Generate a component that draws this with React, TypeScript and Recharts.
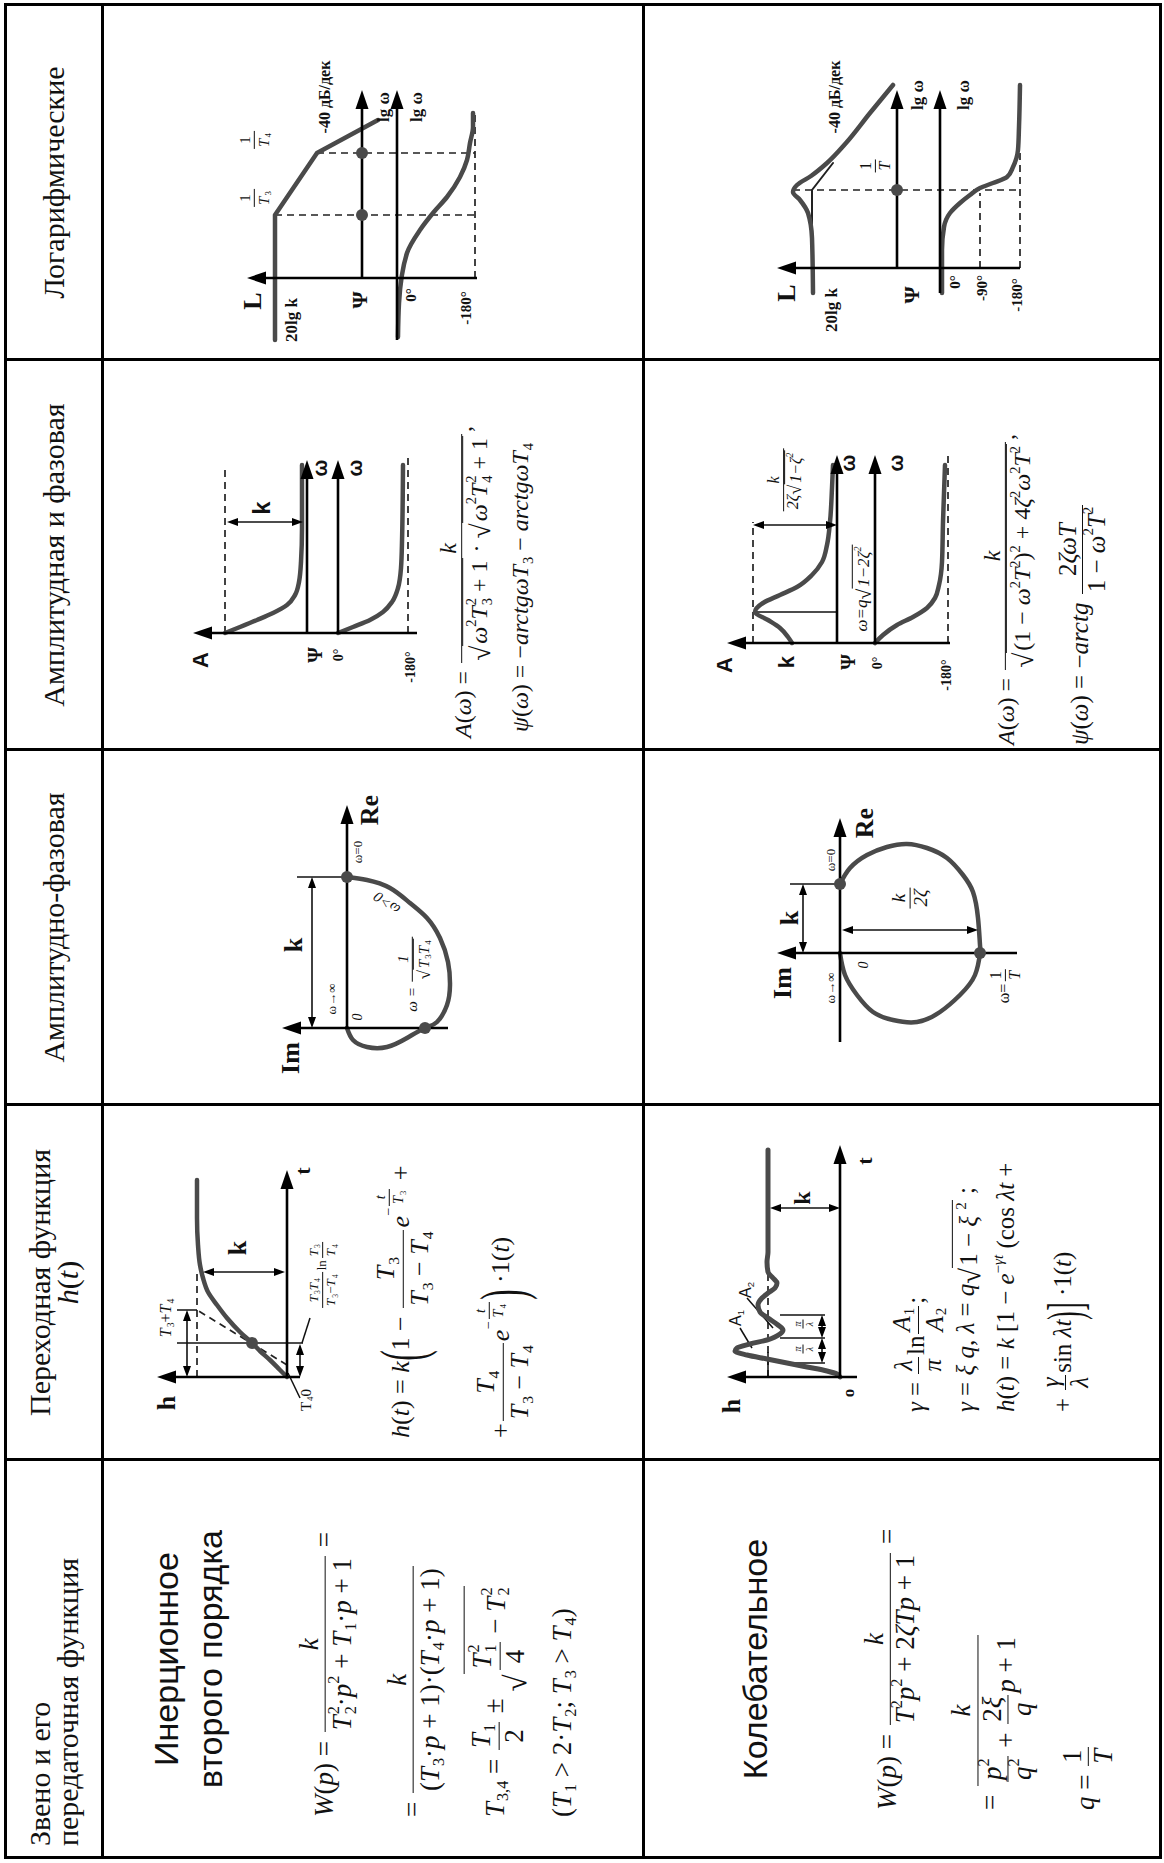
import React from "react";
import { ComposedChart, Line, XAxis, YAxis, ReferenceLine, ReferenceDot } from "recharts";

type P = [number, number];
type Seg = [number, number, number, number];

// ---- Логарифмические: инерционное второго порядка ----
const log1Axes: Seg[] = [[0, -11.5, 0, 11.5], [0, 0, 18.8, 0], [-6.2, -3.5, 18.8, -3.5]];
const log1Amp: P[] = [[-6.2, 8.7], [6.3, 8.7], [12.5, 4.5], [15.8, -1.6]];
const log1Phase: P[] = [[-5.9, -3.6], [-2.5, -3.7], [2.5, -4.5], [4.8, -5.8], [6.5, -7.1], [8.1, -8.5], [10.1, -9.8], [11.8, -10.5], [13.5, -10.8], [15.1, -11.1], [16.5, -11.1]];
const log1Guides: Seg[] = [[6.3, 8.7, 6.3, -11.3], [12.5, 4.5, 12.5, -11.3], [0, -11.3, 16.5, -11.3]];
const log1Dots: P[] = [[6.3, 0], [12.5, 0]];

// ---- Логарифмические: колебательное ----
const log2Axes: Seg[] = [[0, -12.3, 0, 12.0], [0, 0, 17.8, 0], [-2.5, -4.3, 17.8, -4.3]];
const log2Amp: P[] = [[-2.5, 8.4], [3.0, 8.5], [5.5, 8.9], [6.8, 9.7], [7.6, 10.4], [8.3, 10.0], [9.2, 8.6], [10.5, 7.0], [12.5, 5.1], [15.5, 2.7], [18.3, 0.4]];
const log2Asym: P[] = [[0, 8.5], [7.8, 8.5], [10.5, 6.4]];
const log2Phase: P[] = [[-2.5, -4.5], [1.8, -4.5], [4.1, -4.7], [5.5, -5.3], [6.5, -6.3], [7.3, -7.3], [8.0, -8.3], [8.5, -9.6], [9.1, -11.0], [10.1, -11.6], [11.8, -12.1], [14.1, -12.2], [18.3, -12.3]];
const log2Guides: Seg[] = [[7.8, 10.4, 7.8, -12.3], [0, -8.3, 7.5, -8.3], [0, -12.3, 11.8, -12.3]];
const log2Dots: P[] = [[7.8, 0]];

// ---- Амплитудная и фазовая ----
const amp1Axes: Seg[] = [[0, -11.0, 0, 11.4], [0, 0, 17.3, 0], [0, -3.1, 17.3, -3.1]];
const amp1A: P[] = [[0, 8.2], [0.6, 6.7], [1.3, 5.0], [2.0, 3.4], [2.8, 2.0], [3.8, 1.2], [5.1, 0.8], [7.1, 0.6], [10.5, 0.5], [16.8, 0.5]];
const amp1Phase: P[] = [[0, -3.1], [0.6, -4.6], [1.3, -6.3], [2.1, -7.6], [3.1, -8.5], [4.5, -9.1], [6.5, -9.4], [9.1, -9.5], [16.8, -9.6]];
const amp1Guides: Seg[] = [[0, 8.2, 16.6, 8.2], [0, -10.1, 17.5, -10.1]];
const amp1Dims: Seg[] = [[11.1, 8.0, 11.1, 0.4]];

const amp2Axes: Seg[] = [[0, -11.3, 0, 11.0], [0, 0, 18.8, 0], [0, -3.8, 18.8, -3.8]];
const amp2A: P[] = [[0, 4.5], [0.6, 4.9], [1.5, 5.7], [2.3, 6.9], [3.1, 8.2], [4.0, 7.4], [4.8, 5.7], [5.6, 4.0], [6.8, 2.5], [8.1, 1.5], [9.8, 1.0], [12.1, 0.7], [15.5, 0.5], [17.8, 0.4]];
const amp2Phase: P[] = [[0, -3.8], [0.8, -4.6], [1.8, -6.0], [2.6, -7.6], [3.5, -9.0], [4.5, -9.8], [5.8, -10.2], [8.1, -10.5], [12.1, -10.6], [17.8, -10.8]];
const amp2Guides: Seg[] = [[0, 8.4, 12.1, 8.4], [0, -11.1, 18.8, -11.1]];
const amp2Thin: Seg[] = [[3.1, 8.4, 3.1, 0]];
const amp2Dims: Seg[] = [[11.8, 8.4, 11.8, 0]];

// ---- Амплитудно-фазовая ----
const af1Axes: Seg[] = [[0, 0, 22.3, 0], [0, -10.1, 0, 6.5]];
const af1Curve: P[] = [[15.1, 0], [14.8, -2.0], [14.0, -4.3], [12.5, -6.3], [11.0, -8.0], [9.0, -9.3], [6.6, -10.1], [4.3, -10.3], [2.3, -10.0], [0.6, -9.0], [0, -7.8], [-1.0, -6.0], [-1.9, -4.0], [-1.9, -2.0], [-1.2, -0.6], [0, 0]];
const af1Thin: Seg[] = [[15.1, 5.0, 15.1, 0]];
const af1Dims: Seg[] = [[0, 3.5, 15.1, 3.5]];
const af1Dots: P[] = [[15.1, 0], [0, -7.8]];

const af2Axes: Seg[] = [[-8.9, 0, 13.5, 0], [0, -17.7, 0, 6.3]];
const af2Curve: P[] = [[6.9, 0], [8.5, -1.0], [9.8, -2.7], [10.6, -4.7], [10.9, -6.7], [10.5, -8.7], [9.5, -10.7], [7.8, -12.3], [6.1, -13.3], [3.5, -13.8], [0.8, -14.0], [0, -14.0], [-2.2, -13.5], [-4.2, -12.0], [-5.9, -10.0], [-6.9, -7.7], [-6.7, -5.3], [-5.9, -3.3], [-4.2, -1.7], [-2.2, -0.5], [0, 0]];
const af2Thin: Seg[] = [[6.9, 5.0, 6.9, 0]];
const af2Dims: Seg[] = [[0, 3.7, 6.9, 3.7], [2.3, -0.2, 2.3, -13.8]];
const af2Dots: P[] = [[6.9, 0], [0, -14.0]];

// ---- Переходная функция ----
const tr1Axes: Seg[] = [[0, -1.3, 0, 13.0], [0, 0, 20.7, 0]];
const tr1Curve: P[] = [[0, 0], [0.7, 0.7], [1.7, 1.7], [2.6, 2.7], [3.4, 3.5], [4.5, 4.7], [5.9, 6.0], [7.2, 7.0], [8.5, 7.9], [9.9, 8.4], [11.2, 8.7], [13.2, 8.9], [15.9, 9.0], [19.7, 9.0]];
const tr1Guides: Seg[] = [[0, 9.0, 10.5, 9.0], [1.2, 0, 6.7, 9.0]];
const tr1Thin: Seg[] = [[3.4, 11.0, 3.4, -1.6], [6.7, 11.0, 6.7, 9.0], [-2.1, -1.3, 0.4, -0.1], [5.9, -2.3, 3.4, -1.5]];
const tr1Dims: Seg[] = [[0, 10.0, 6.7, 10.0], [0, -1.3, 3.3, -1.3], [10.5, 8.4, 10.5, 0.2]];
const tr1Dots: P[] = [[3.4, 3.5]];

const tr2Axes: Seg[] = [[0, -1.7, 0, 11.3], [0, 0, 23.2, 0]];
const tr2Curve: P[] = [[0, 0], [0.3, 0.3], [0.6, 1.3], [1.0, 3.3], [1.4, 5.3], [1.8, 7.3], [2.2, 9.3], [2.6, 10.5], [2.9, 10.3], [3.3, 9.0], [3.7, 7.3], [4.3, 6.0], [4.7, 5.7], [5.2, 6.2], [5.9, 7.2], [6.5, 8.0], [7.2, 8.2], [7.9, 7.8], [8.4, 7.2], [8.9, 6.5], [9.4, 6.3], [9.9, 6.7], [10.5, 7.2], [11.5, 7.3], [12.5, 7.2], [14.5, 7.2], [22.7, 7.2]];
const tr2Guides: Seg[] = [[0, 7.2, 10.5, 7.2]];
const tr2Thin: Seg[] = [[0, 7.2, 2.5, 7.2], [1.4, 6.0, 1.4, 1.5], [3.9, 6.0, 3.9, 1.5], [6.2, 6.0, 6.2, 1.5], [4.9, 10.0, 2.9, 8.8], [7.9, 9.3, 4.9, 6.7]];
const tr2Dims: Seg[] = [[1.4, 1.8, 3.9, 1.8], [3.9, 1.8, 6.2, 1.8], [16.9, 7.0, 16.9, 0]];

const S = 10; // px per unit
const CURVE = "#4a4a4a";
const SERIF = '"Liberation Serif", "Times New Roman", serif';
const SANS = '"Liberation Sans", Arial, sans-serif';

const angOf = (s: Seg) => (Math.atan2(-(s[3] - s[1]), s[2] - s[0]) * 180) / Math.PI;
const cut = (s: Seg, a: number, b: number): Seg => {
  const dx = s[2] - s[0];
  const dy = s[3] - s[1];
  const len = Math.hypot(dx, dy);
  return [s[0] + (dx / len) * a, s[1] + (dy / len) * a, s[2] - (dx / len) * b, s[3] - (dy / len) * b];
};
const seg = (s: Seg) => [{ x: s[0], y: s[1] }, { x: s[2], y: s[3] }];

function Head({ cx, cy, a, L, W }: any) {
  return <polygon points={`0,0 ${-L},${-W / 2} ${-L},${W / 2}`} transform={`translate(${cx},${cy}) rotate(${a})`} fill="#000" />;
}

function Plot({ box, origin, curves = [], axes = [], dashed = [], thin = [], dims = [], dots = [] }: any) {
  const [bx, by, bw, bh] = box;
  const [ox, oy] = origin;
  const xd = [(bx - ox) / S, (bx + bw - ox) / S];
  const yd = [(oy - by - bh) / S, (oy - by) / S];
  return (
    <div style={{ position: "absolute", left: bx, top: by }}>
      <ComposedChart width={bw} height={bh} margin={{ top: 0, right: 0, bottom: 0, left: 0 }}>
        <XAxis type="number" dataKey="x" domain={xd} hide allowDataOverflow />
        <YAxis type="number" dataKey="y" domain={yd} hide allowDataOverflow />
        {dashed.map((s: Seg, i: number) => (
          <ReferenceLine key={`g${i}`} segment={seg(s)} stroke="#222" strokeWidth={1.7} strokeDasharray="7 5" ifOverflow="visible" />
        ))}
        {thin.map((s: Seg, i: number) => (
          <ReferenceLine key={`t${i}`} segment={seg(s)} stroke="#111" strokeWidth={1.5} ifOverflow="visible" />
        ))}
        {curves.map((c: any, i: number) => (
          <Line
            key={`c${i}`}
            data={c.pts.map(([x, y]: P) => ({ x, y }))}
            dataKey="y"
            type={c.type ?? "monotone"}
            stroke={c.color ?? CURVE}
            strokeWidth={c.w ?? 4.5}
            dot={false}
            activeDot={false}
            strokeLinecap="round"
            strokeLinejoin="round"
            isAnimationActive={false}
          />
        ))}
        {axes.map((s: Seg, i: number) => (
          <ReferenceLine key={`a${i}`} segment={seg(cut(s, 0, 1.2))} stroke="#000" strokeWidth={2.6} ifOverflow="visible" />
        ))}
        {axes.map((s: Seg, i: number) => (
          <ReferenceDot key={`ah${i}`} x={s[2]} y={s[3]} r={1} ifOverflow="visible" shape={(p: any) => <Head cx={p.cx} cy={p.cy} a={angOf(s)} L={19} W={13} />} />
        ))}
        {dims.map((s: Seg, i: number) => (
          <ReferenceLine key={`m${i}`} segment={seg(cut(s, 0.6, 0.6))} stroke="#111" strokeWidth={1.6} ifOverflow="visible" />
        ))}
        {dims.map((s: Seg, i: number) => (
          <ReferenceDot key={`me${i}`} x={s[2]} y={s[3]} r={1} ifOverflow="visible" shape={(p: any) => <Head cx={p.cx} cy={p.cy} a={angOf(s)} L={11} W={8} />} />
        ))}
        {dims.map((s: Seg, i: number) => (
          <ReferenceDot key={`ms${i}`} x={s[0]} y={s[1]} r={1} ifOverflow="visible" shape={(p: any) => <Head cx={p.cx} cy={p.cy} a={angOf(s) + 180} L={11} W={8} />} />
        ))}
        {dots.map(([x, y]: P, i: number) => (
          <ReferenceDot key={`p${i}`} x={x} y={y} r={6} fill={CURVE} stroke="none" ifOverflow="visible" />
        ))}
      </ComposedChart>
    </div>
  );
}

function Txt({ x, y, s = 16, b = false, it = false, sans = false, rot = 0, children }: any) {
  return (
    <div
      style={{
        position: "absolute",
        left: x,
        top: y,
        transform: `translate(-50%, -50%) rotate(${rot}deg)`,
        fontFamily: sans ? SANS : SERIF,
        fontSize: s,
        fontWeight: b ? 700 : 400,
        fontStyle: it ? "italic" : "normal",
        whiteSpace: "nowrap",
        lineHeight: 1.1,
      }}
    >
      {children}
    </div>
  );
}

function Mth({ x, y, s, children }: any) {
  return (
    <div style={{ position: "absolute", left: x, top: y, transform: "translateY(-50%)", fontFamily: SERIF, fontSize: s, whiteSpace: "pre", lineHeight: 1.15 }}>
      {children}
    </div>
  );
}

function Fr({ n, d, bar = 1.3 }: any) {
  return (
    <span style={{ display: "inline-flex", flexDirection: "column", alignItems: "stretch", verticalAlign: "middle", textAlign: "center", margin: "0 2px", lineHeight: 1.1 }}>
      <span style={{ padding: "0 2px" }}>{n}</span>
      <span style={{ borderTop: `${bar}px solid #111`, padding: "0 2px" }}>{d}</span>
    </span>
  );
}

function V({ b, sub, sup, up = false }: any) {
  return (
    <span style={{ display: "inline-flex", alignItems: "center" }}>
      <span style={{ fontStyle: up ? "normal" : "italic" }}>{b}</span>
      <span style={{ display: "inline-flex", flexDirection: "column", fontSize: "0.6em", lineHeight: 1.05, fontStyle: "normal", marginLeft: 1 }}>
        <span style={{ visibility: sup ? "visible" : "hidden" }}>{sup || "0"}</span>
        <span style={{ visibility: sub ? "visible" : "hidden" }}>{sub || "0"}</span>
      </span>
    </span>
  );
}

const Sp = ({ children }: any) => <span style={{ fontSize: "0.6em", position: "relative", top: "-0.75em" }}>{children}</span>;
const Sb = ({ children }: any) => <span style={{ fontSize: "0.6em", position: "relative", top: "0.35em" }}>{children}</span>;
const Ex = ({ children }: any) => <span style={{ fontSize: "0.55em", display: "inline-block", position: "relative", top: "-1.1em" }}>{children}</span>;

function Rt({ children }: any) {
  return (
    <span style={{ display: "inline-flex", alignItems: "stretch", verticalAlign: "middle" }}>
      <span style={{ display: "flex", alignItems: "flex-end", fontSize: "1.15em", lineHeight: 1, fontStyle: "normal" }}>√</span>
      <span style={{ borderTop: "1.3px solid #111", padding: "1px 2px 0", lineHeight: 1.2 }}>{children}</span>
    </span>
  );
}

const Bg = ({ c, k = 2.4 }: any) => (
  <span style={{ display: "inline-block", fontSize: `${k}em`, lineHeight: 0.9, verticalAlign: "middle", transform: "scaleX(0.5)", margin: "0 -0.08em" }}>{c}</span>
);

const T = (n: string, p?: string) => <V b="T" sub={n} sup={p} />;

const COLS = [5, 403, 758, 1113, 1503, 1858];
const ROWS = [5, 102, 643, 1160];

function Grid() {
  return (
    <>
      {COLS.map((x) => (
        <div key={`v${x}`} style={{ position: "absolute", left: x - 1.5, top: ROWS[0] - 1.5, width: 3, height: ROWS[3] - ROWS[0] + 3, background: "#000" }} />
      ))}
      {ROWS.map((y) => (
        <div key={`h${y}`} style={{ position: "absolute", left: COLS[0] - 1.5, top: y - 1.5, width: COLS[5] - COLS[0] + 3, height: 3, background: "#000" }} />
      ))}
    </>
  );
}

function Headers() {
  const hs: any = { position: "absolute", top: 5, height: 97, display: "flex", flexDirection: "column", justifyContent: "center", fontFamily: SERIF, fontSize: 30, lineHeight: "28px" };
  return (
    <>
      <div style={{ ...hs, left: 5, width: 398, paddingLeft: 12, boxSizing: "border-box" }}>
        <div>Звено и его</div>
        <div>передаточная функция</div>
      </div>
      <div style={{ ...hs, left: 403, width: 355, textAlign: "center" }}>
        <div>Переходная функция</div>
        <div><i>h</i>(<i>t</i>)</div>
      </div>
      <div style={{ ...hs, left: 758, width: 355, textAlign: "center" }}>Амплитудно-фазовая</div>
      <div style={{ ...hs, left: 1113, width: 390, textAlign: "center" }}>Амплитудная и фазовая</div>
      <div style={{ ...hs, left: 1503, width: 355, textAlign: "center" }}>Логарифмические</div>
    </>
  );
}

export default function App() {
  return (
    <div style={{ position: "absolute", left: 0, top: 0, width: 1164, height: 1863, overflow: "hidden", background: "#fff" }}>
      <div style={{ position: "absolute", left: 0, top: 0, width: 1863, height: 1164, transformOrigin: "0 0", transform: "translateY(1863px) rotate(-90deg)", color: "#111" }}>
        {/* Логарифмические */}
        <Plot box={[1503, 102, 355, 541]} origin={[1585, 362]} axes={log1Axes} dashed={log1Guides} dots={log1Dots}
          curves={[{ pts: log1Amp, type: "linear" }, { pts: log1Phase }]} />
        <Plot box={[1503, 643, 355, 517]} origin={[1595, 897]} axes={log2Axes} dashed={log2Guides} dots={log2Dots}
          curves={[{ pts: log2Asym, type: "linear", w: 2, color: "#222" }, { pts: log2Amp }, { pts: log2Phase }]} />
        {/* Амплитудная и фазовая */}
        <Plot box={[1113, 102, 390, 541]} origin={[1230, 307]} axes={amp1Axes} dashed={amp1Guides} dims={amp1Dims}
          curves={[{ pts: amp1A }, { pts: amp1Phase }]} />
        <Plot box={[1113, 643, 390, 517]} origin={[1220, 837]} axes={amp2Axes} dashed={amp2Guides} thin={amp2Thin} dims={amp2Dims}
          curves={[{ pts: amp2A }, { pts: amp2Phase }]} />
        {/* Амплитудно-фазовая */}
        <Plot box={[758, 102, 355, 541]} origin={[835, 347]} axes={af1Axes} thin={af1Thin} dims={af1Dims} dots={af1Dots}
          curves={[{ pts: af1Curve, type: "natural" }]} />
        <Plot box={[758, 643, 355, 517]} origin={[910, 840]} axes={af2Axes} thin={af2Thin} dims={af2Dims} dots={af2Dots}
          curves={[{ pts: af2Curve, type: "natural" }]} />
        {/* Переходная функция */}
        <Plot box={[403, 102, 355, 541]} origin={[486, 287]} axes={tr1Axes} dashed={tr1Guides} thin={tr1Thin} dims={tr1Dims} dots={tr1Dots}
          curves={[{ pts: tr1Curve }]} />
        <Plot box={[403, 643, 355, 517]} origin={[486, 840]} axes={tr2Axes} dashed={tr2Guides} thin={tr2Thin} dims={tr2Dims}
          curves={[{ pts: tr2Curve, w: 5 }]} />

        <Grid />
        <Headers />

        {/* labels: логарифмические */}
        <Txt x={1562} y={253} s={26} b>L</Txt>
        <Txt x={1543} y={292} s={17} b>20lg k</Txt>
        <Txt x={1563} y={360} s={22} b>Ψ</Txt>
        <Txt x={1568} y={411} s={15} b>0°</Txt>
        <Txt x={1555} y={466} s={15} b>-180°</Txt>
        <Txt x={1665} y={255} s={15}><Fr n="1" d={T("3")} bar={1} /></Txt>
        <Txt x={1723} y={255} s={15}><Fr n="1" d={T("4")} bar={1} /></Txt>
        <Txt x={1766} y={325} s={16} b>-40 дБ/дек</Txt>
        <Txt x={1756} y={384} s={17} b>lg ω</Txt>
        <Txt x={1756} y={417} s={17} b>lg ω</Txt>

        <Txt x={1570} y={787} s={26} b>L</Txt>
        <Txt x={1553} y={832} s={17} b>20lg k</Txt>
        <Txt x={1568} y={912} s={22} b>Ψ</Txt>
        <Txt x={1581} y={955} s={15} b>0°</Txt>
        <Txt x={1575} y={982} s={15} b>-90°</Txt>
        <Txt x={1568} y={1017} s={15} b>-180°</Txt>
        <Txt x={1697} y={875} s={16}><Fr n="1" d={<i>T</i>} bar={1} /></Txt>
        <Txt x={1766} y={835} s={16} b>-40 дБ/дек</Txt>
        <Txt x={1768} y={918} s={17} b>lg ω</Txt>
        <Txt x={1768} y={964} s={17} b>lg ω</Txt>

        {/* labels: амплитудная и фазовая */}
        <Txt x={1203} y={201} s={22} b sans>A</Txt>
        <Txt x={1208} y={315} s={20} b>Ψ</Txt>
        <Txt x={1208} y={339} s={14} b>0°</Txt>
        <Txt x={1196} y={411} s={14} b>-180°</Txt>
        <Txt x={1355} y={262} s={24} b sans>k</Txt>
        <Txt x={1395} y={320} s={20} b sans>ω</Txt>
        <Txt x={1395} y={355} s={20} b sans>ω</Txt>
        <Mth x={1125} y={465} s={24}>
          <i>A</i>(<i>ω</i>) ={" "}
          <Fr n={<i>k</i>} d={<><Rt><i>ω</i><Sp>2</Sp>{T("3", "2")} + 1</Rt> · <Rt><i>ω</i><Sp>2</Sp>{T("4", "2")} + 1</Rt></>} />,
        </Mth>
        <Mth x={1131} y={521} s={24}>
          <i>ψ</i>(<i>ω</i>) = −<i>arctgω</i>{T("3")} − <i>arctgω</i>{T("4")}
        </Mth>

        <Txt x={1198} y={725} s={22} b sans>A</Txt>
        <Txt x={1201} y={787} s={22} b sans>k</Txt>
        <Txt x={1201} y={848} s={20} b>Ψ</Txt>
        <Txt x={1200} y={878} s={14} b>0°</Txt>
        <Txt x={1188} y={947} s={14} b>-180°</Txt>
        <Txt x={1400} y={848} s={20} b sans>ω</Txt>
        <Txt x={1400} y={896} s={20} b sans>ω</Txt>
        <Txt x={1383} y={785} s={16} it>
          <Fr n="k" d={<>2ζ<Rt>1−ζ<Sp>2</Sp></Rt></>} bar={1.2} />
        </Txt>
        <Txt x={1275} y={863} s={17} it>ω=q<Rt>1−2ζ<Sp>2</Sp></Rt></Txt>
        <Mth x={1118} y={1008} s={24}>
          <i>A</i>(<i>ω</i>) ={" "}
          <Fr n={<i>k</i>} d={<Rt>(1 − <i>ω</i><Sp>2</Sp><i>T</i><Sp>2</Sp>)<Sp>2</Sp> + 4<i>ζ</i><Sp>2</Sp><i>ω</i><Sp>2</Sp><i>T</i><Sp>2</Sp></Rt>} />,
        </Mth>
        <Mth x={1118} y={1082} s={25}>
          <i>ψ</i>(<i>ω</i>) = −<i>arctg</i>{" "}
          <Fr n={<>2<i>ζωT</i></>} d={<>1 − <i>ω</i><Sp>2</Sp><i>T</i><Sp>2</Sp></>} />
        </Mth>

        {/* labels: амплитудно-фазовая */}
        <Txt x={1053} y={370} s={26} b>Re</Txt>
        <Txt x={805} y={291} s={26} b>Im</Txt>
        <Txt x={918} y={294} s={26} b>k</Txt>
        <Txt x={1011} y={358} s={13}>ω=0</Txt>
        <Txt x={864} y={332} s={13}>ω→∞</Txt>
        <Txt x={846} y={358} s={14} it>0</Txt>
        <Txt x={960} y={387} s={15} it rot={-55}>ω&gt;0</Txt>
        <Txt x={890} y={414} s={15} it>
          ω ={" "}<Fr n="1" d={<Rt>{T("3")}{T("4")}</Rt>} bar={1} />
        </Txt>

        <Txt x={1040} y={865} s={26} b>Re</Txt>
        <Txt x={880} y={783} s={26} b>Im</Txt>
        <Txt x={945} y={790} s={26} b>k</Txt>
        <Txt x={965} y={910} s={19} it><Fr n="k" d="2ζ" bar={1.2} /></Txt>
        <Txt x={1003} y={831} s={13}>ω=0</Txt>
        <Txt x={875} y={831} s={13}>ω→∞</Txt>
        <Txt x={898} y={864} s={14} it>0</Txt>
        <Txt x={878} y={1005} s={16}>ω=<Fr n="1" d={<i>T</i>} bar={1} /></Txt>

        {/* labels: переходная функция */}
        <Txt x={460} y={167} s={26} b>h</Txt>
        <Txt x={692} y={303} s={22} b>t</Txt>
        <Txt x={545} y={166} s={16}>{T("3")}+{<V b="T" sub="4" />}</Txt>
        <Txt x={463} y={306} s={15}><V b="T" sub="4" up />0</Txt>
        <Txt x={588} y={323} s={13}>
          <Fr n={<>{T("3")}{T("4")}</>} d={<>{T("3")}−{T("4")}</>} bar={1} />ln<Fr n={T("3")} d={T("4")} bar={1} />
        </Txt>
        <Txt x={615} y={238} s={26} b>k</Txt>
        <Mth x={425} y={403} s={26}>
          <i>h</i>(<i>t</i>) = <i>k</i>
          <Bg c="(" />
          1 −{" "}
          <Fr n={T("3")} d={<>{T("3")} − {T("4")}</>} />
          <i>e</i>
          <Ex>−<Fr n={<i>t</i>} d={T("3")} bar={1} /></Ex> +
        </Mth>
        <Mth x={425} y={503} s={26}>
          +<Fr n={T("4")} d={<>{T("3")} − {T("4")}</>} />
          <i>e</i>
          <Ex>−<Fr n={<i>t</i>} d={T("4")} bar={1} /></Ex>
          <Bg c=")" />
          {" "}·1(<i>t</i>)
        </Mth>

        <Txt x={457} y={732} s={26} b>h</Txt>
        <Txt x={470} y={849} s={17} b>o</Txt>
        <Txt x={702} y={865} s={22} b>t</Txt>
        <Txt x={665} y={802} s={24} b>k</Txt>
        <Txt x={545} y={736} s={16} sans>A<Sb>1</Sb></Txt>
        <Txt x={573} y={746} s={16} sans>A<Sb>2</Sb></Txt>
        <Txt x={514} y={803} s={10} it><Fr n="π" d="λ" bar={0.8} /></Txt>
        <Txt x={539} y={803} s={10} it><Fr n="π" d="λ" bar={0.8} /></Txt>
        <Mth x={451} y={918} s={25}>
          <i>γ</i> = <Fr n={<i>λ</i>} d={<i>π</i>} bar={1} />ln<Fr n={<V b="A" sub="1" />} d={<V b="A" sub="2" />} bar={1} />;
        </Mth>
        <Mth x={451} y={968} s={25}>
          <i>γ</i> = <i>ξ q</i>, <i>λ</i> = <i>q</i><Rt>1 − <i>ξ</i> <Sp>2</Sp></Rt> ;
        </Mth>
        <Mth x={451} y={1006} s={25}>
          <i>h</i>(<i>t</i>) = <i>k</i> [1 − <i>e</i><Sp>−<i>γt</i></Sp> (cos <i>λt</i> +
        </Mth>
        <Mth x={451} y={1065} s={25}>
          + <Fr n={<i>γ</i>} d={<i>λ</i>} bar={1} />sin <i>λt</i>
          <Bg c=")" k={2} />
          <Bg c="]" k={2} />
          {" "}·1(<i>t</i>)
        </Mth>

        {/* звено и передаточная функция */}
        <div style={{ position: "absolute", left: 5, top: 144, width: 398, textAlign: "center", fontFamily: SANS, fontSize: 34, lineHeight: "44px" }}>
          Инерционное<br />второго порядка
        </div>
        <Mth x={46} y={327} s={27}>
          <i>W</i>(<i>p</i>) ={" "}
          <Fr n={<i>k</i>} d={<>{T("2", "2")}·<i>p</i><Sp>2</Sp> + {T("1")}·<i>p</i> + 1</>} /> =
        </Mth>
        <Mth x={46} y={415} s={27}>
          ={" "}
          <Fr n={<i>k</i>} d={<>({T("3")}·<i>p</i> + 1)·({T("4")}·<i>p</i> + 1)</>} />
        </Mth>
        <Mth x={46} y={497} s={27}>
          {T("3,4")} = <Fr n={T("1")} d="2" /> ± <Rt><Fr n={T("1", "2")} d="4" /> − {T("2", "2")}</Rt>
        </Mth>
        <Mth x={46} y={563} s={27}>
          ({T("1")} &gt; 2·{T("2")}; {T("3")} &gt; {T("4")})
        </Mth>

        <div style={{ position: "absolute", left: 5, top: 733, width: 398, textAlign: "center", fontFamily: SANS, fontSize: 34, lineHeight: "44px" }}>
          Колебательное
        </div>
        <Mth x={53} y={890} s={27}>
          <i>W</i>(<i>p</i>) ={" "}
          <Fr n={<i>k</i>} d={<><i>T</i><Sp>2</Sp><i>p</i><Sp>2</Sp> + 2<i>ζTp</i> + 1</>} /> =
        </Mth>
        <Mth x={53} y={993} s={27}>
          ={" "}
          <Fr n={<i>k</i>} d={<><Fr n={<><i>p</i><Sp>2</Sp></>} d={<><i>q</i><Sp>2</Sp></>} /> + <Fr n={<>2<i>ξ</i></>} d={<i>q</i>} /><i>p</i> + 1</>} />
        </Mth>
        <Mth x={53} y={1088} s={27}>
          <i>q</i> = <Fr n="1" d={<i>T</i>} />
        </Mth>
      </div>
    </div>
  );
}
